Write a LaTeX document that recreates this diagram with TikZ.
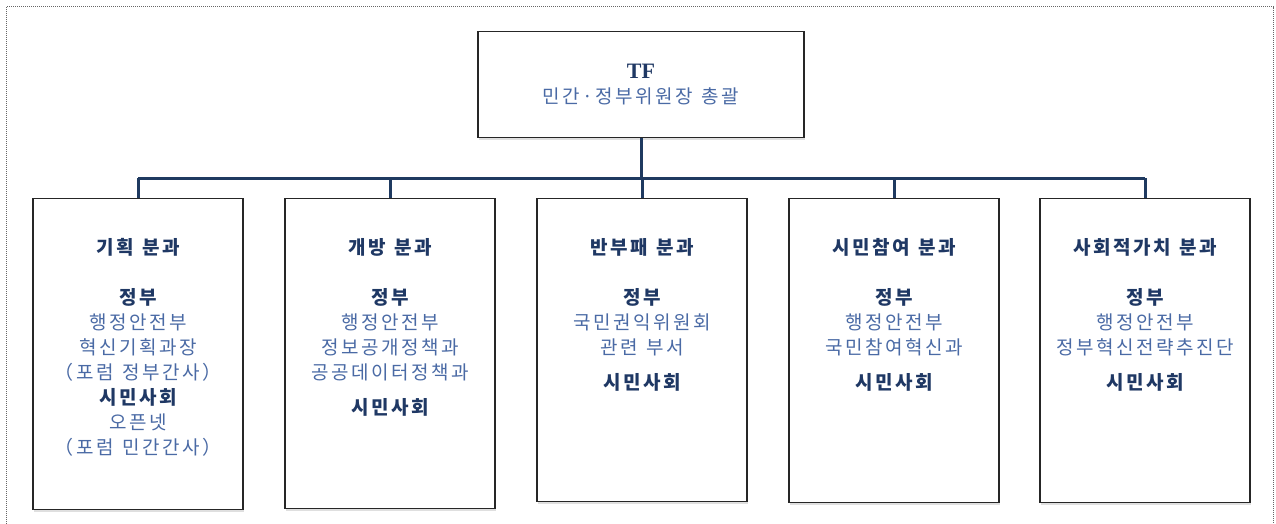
\documentclass[tikz,border=0pt]{standalone}
\usepackage{fontspec}
\setmainfont{Liberation Serif}
\newfontfamily\kr{Noto Sans CJK KR}[LetterSpace=13]
\usetikzlibrary{positioning,shadows}
\definecolor{navy}{HTML}{1F3864}
\definecolor{steel}{HTML}{4A6AA5}
\definecolor{busline}{HTML}{1F3A60}
\newcommand{\hd}[1]{{\bfseries\color{navy}#1}}
\newcommand{\gap}{\hspace{0.45em}}

\begin{document}
\begin{tikzpicture}[x=1pt,y=1pt,
  box/.style={draw=black!85,line width=1.1pt,fill=white,minimum width=210pt,
    anchor=north,drop shadow={opacity=0.25,shadow xshift=1pt,shadow yshift=-2pt}},
  txt/.style={align=center,inner sep=0pt,text=steel,
    font=\kr\fontsize{19}{25}\selectfont},
  link/.style={draw=busline,line width=3pt}]
\useasboundingbox (0,0) rectangle (1276,-523);
% frame
\draw[black!60,line width=0.8pt,dash pattern=on 1pt off 1pt]
(6.5,-530) -- (6.5,-6.5) -- (1273.5,-6.5) -- (1273.5,-530);

% top box
\node[box,minimum width=326pt,minimum height=106pt,align=center,text=steel,
  font=\fontsize{19}{25}\selectfont] (tf) at (641,-31)
  {{\bfseries\color{navy}\fontsize{22}{25}\selectfont TF}\\
   {\kr 민간·정부위원장\gap 총괄}};

% sub groups
\node[box,minimum height=311pt] (b1) at (138,-198) {};
\node[box,minimum height=310pt] (b2) at (390,-198) {};
\node[box,minimum height=303pt] (b3) at (642,-198) {};
\node[box,minimum height=304pt] (b4) at (894,-198) {};
\node[box,minimum height=304pt] (b5) at (1145,-198) {};

\node[txt,below=40pt of b1.north] (t1) {\hd{기획\gap 분과}\\[25pt]
  \hd{정부}\\ 행정안전부\\ 혁신기획과장\\ （포럼\gap 정부간사）\\
  \hd{시민사회}\\ 오픈넷\\ （포럼\gap 민간간사）};
\node[txt,below=40pt of b2.north] (t2) {\hd{개방\gap 분과}\\[25pt]
  \hd{정부}\\ 행정안전부\\ 정보공개정책과\\ 공공데이터정책과\\[10pt]
  \hd{시민사회}};
\node[txt,below=40pt of b3.north] (t3) {\hd{반부패\gap 분과}\\[25pt]
  \hd{정부}\\ 국민권익위원회\\ 관련\gap 부서\\[10pt]
  \hd{시민사회}};
\node[txt,below=40pt of b4.north] (t4) {\hd{시민참여\gap 분과}\\[25pt]
  \hd{정부}\\ 행정안전부\\ 국민참여혁신과\\[10pt]
  \hd{시민사회}};
\node[txt,below=40pt of b5.north] (t5) {\hd{사회적가치\gap 분과}\\[25pt]
  \hd{정부}\\ 행정안전부\\ 정부혁신전략추진단\\[10pt]
  \hd{시민사회}};

% connectors
\coordinate (bus) at (0,-178);
\draw[link] (tf.south) -- (tf.south |- bus);
\draw[link] (b1.north |- bus) -- (b5.north |- bus);
\foreach \i in {1,...,5}
  \draw[link] (b\i.north |- bus) -- (b\i.north);
\end{tikzpicture}
\end{document}
